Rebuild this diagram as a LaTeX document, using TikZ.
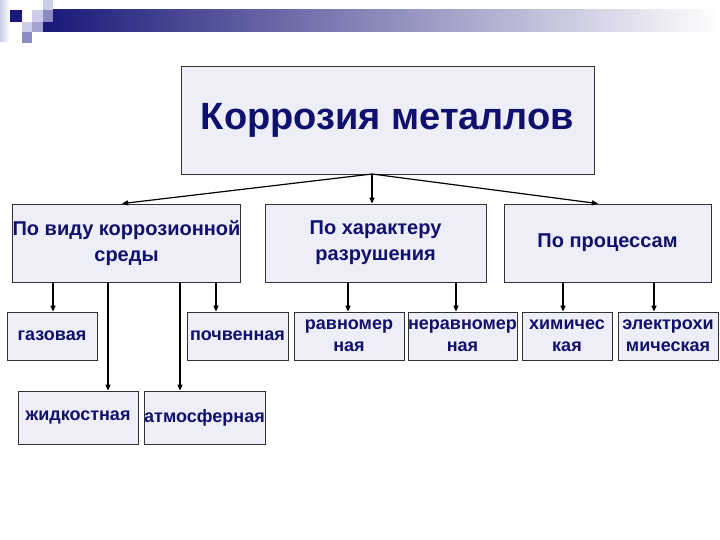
\documentclass[tikz,border=0pt]{standalone}
\usepackage{fontspec}
\setmainfont{Liberation Sans}
\usepackage{xcolor}
\usetikzlibrary{positioning, arrows.meta}
\definecolor{boxfill}{RGB}{238,238,248}
\definecolor{ink}{RGB}{16,16,110}
\definecolor{barnavy}{RGB}{24,24,120}
\definecolor{sqlight}{RGB}{204,204,232}
\definecolor{sqmid}{RGB}{140,140,196}

\begin{document}
\begin{tikzpicture}[x=1pt, y=-1pt,
    box/.style={draw=black!80, line width=0.8pt, fill=boxfill, text=ink,
        font=\bfseries, align=center, inner sep=0pt},
    arr/.style={-{Triangle[length=6pt, width=5pt]}, line width=1.6pt}]
    \useasboundingbox (0,0) rectangle (720,540);

    % Header bar and squares
    \shade[left color=sqlight, right color=white] (0,0) rectangle (10,42);
    \shade[left color=barnavy, right color=white] (43,10) rectangle (720,32);
    \fill[barnavy] (10,10) rectangle (22,22);
    \fill[sqlight] (22,22) rectangle (32,32);
    \fill[sqmid] (22,32) rectangle (32,43);
    \fill[sqlight] (32,10) rectangle (43,22);
    \fill[sqmid!80] (32,22) rectangle (43,32);
    \fill[sqlight] (43,0) rectangle (53,10);
    \fill[sqmid] (43,10) rectangle (53,22);

    % Root
    \node[box, minimum width=413pt, minimum height=108pt,
        font=\bfseries\fontsize{38}{44}\selectfont] (root) at (387.5,120)
        {Коррозия металлов};
    \coordinate (hub) at (372,174);

    % Classes
    \tikzset{class/.style={box, minimum height=78pt, font=\bfseries\fontsize{20}{26}\selectfont}}
    \node[class, minimum width=227pt] (medium) at (126.5,243)
        {По виду коррозионной\\среды};
    \node[class, minimum width=221pt] (damage) at (375.5,243)
        {По характеру\\разрушения};
    \node[class, minimum width=207pt] (process) at (607.5,243)
        {По процессам};

    % Kinds
    \tikzset{kind/.style={box, minimum height=48pt, font=\bfseries\fontsize{18}{22}\selectfont}}
    \node[kind, minimum width=90pt] (gas) at (52,336) {газовая};
    \node[kind, minimum width=101pt] (soil) at (237.5,336) {почвенная};
    \node[kind, minimum width=110pt] (even) at (349,336) {равномер\\ная};
    \node[kind, minimum width=109pt] (uneven) at (462.5,336) {неравномер\\ная};
    \node[kind, minimum width=90pt] (chem) at (567,336) {химичес\\кая};
    \node[kind, minimum width=100pt] (electro) at (668,336) {электрохи\\мическая};
    \node[kind, minimum width=120pt, minimum height=53pt] (liquid) at (78,417.5) {жидкостная};
    \node[kind, minimum width=121pt, minimum height=53pt] (air) at (204.5,417.5) {атмосферная};

    % Connectors
    \draw[arr, line width=1.2pt] (hub) -- (medium.north -| 122,0);
    \draw[arr] (hub) -- (damage.north -| hub);
    \draw[arr, line width=1.2pt] (hub) -- (process.north -| 598,0);
    \foreach \p/\c/\x in {medium/gas/53, medium/liquid/108, medium/air/180,
        medium/soil/216, damage/even/348, damage/uneven/456,
        process/chem/563, process/electro/654}
        \draw[arr] (\p.south -| \x,0) -- (\c.north -| \x,0);
\end{tikzpicture}
\end{document}
